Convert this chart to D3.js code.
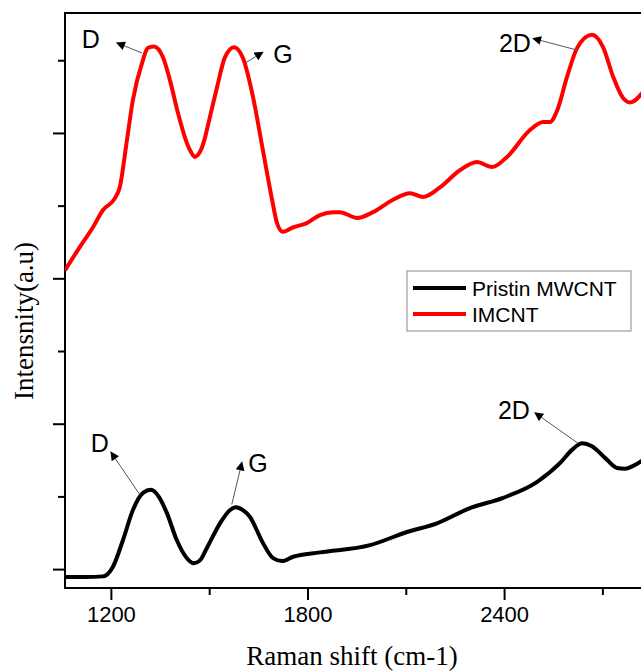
<!DOCTYPE html>
<html lang="en">
<head>
<meta charset="utf-8"/>
<title>Raman spectra</title>
<script src="https://d3js.org/d3.v7.min.js"></script>
<style>
  body { margin: 0; background: #fff; overflow: hidden; }
</style>
</head>
<body>
<div id="chart"></div>
<script>
// Raman shift (cm-1) and intensity (a.u.)
var pristinShift = [1060, 1121, 1176, 1206, 1237, 1267, 1298, 1322, 1347, 1371, 1401, 1432, 1453, 1472, 1493, 1533, 1563, 1582, 1603, 1624, 1664, 1695, 1722, 1756, 1838, 1991, 2104, 2195, 2296, 2397, 2501, 2571, 2607, 2638, 2668, 2708, 2745, 2769, 2794, 2830];
var pristinValue = [-0.11, -0.11, -0.10, 0.03, 0.40, 0.81, 1.05, 1.09, 0.99, 0.77, 0.40, 0.15, 0.08, 0.12, 0.29, 0.63, 0.81, 0.85, 0.81, 0.72, 0.36, 0.15, 0.11, 0.17, 0.23, 0.33, 0.51, 0.63, 0.84, 0.98, 1.20, 1.46, 1.64, 1.73, 1.69, 1.53, 1.39, 1.38, 1.42, 1.52];

var imcntShift = [1060, 1105, 1145, 1176, 1212, 1227, 1249, 1267, 1295, 1313, 1331, 1359, 1380, 1405, 1432, 1444, 1456, 1466, 1478, 1487, 1496, 1524, 1548, 1576, 1603, 1634, 1664, 1692, 1707, 1725, 1756, 1798, 1838, 1878, 1899, 1951, 2000, 2061, 2113, 2153, 2204, 2266, 2317, 2363, 2409, 2479, 2519, 2540, 2562, 2592, 2623, 2668, 2702, 2733, 2763, 2784, 2830];
var imcntValue = [4.11, 4.43, 4.70, 4.94, 5.10, 5.25, 5.90, 6.45, 6.96, 7.17, 7.19, 7.04, 6.73, 6.27, 5.86, 5.74, 5.67, 5.70, 5.80, 5.93, 6.10, 6.63, 7.04, 7.18, 7.03, 6.49, 5.76, 5.08, 4.76, 4.64, 4.70, 4.76, 4.87, 4.91, 4.91, 4.83, 4.91, 5.08, 5.17, 5.12, 5.25, 5.49, 5.60, 5.53, 5.67, 6.04, 6.15, 6.15, 6.31, 6.77, 7.17, 7.35, 7.18, 6.77, 6.48, 6.42, 6.60];

var seriesNames = ["Pristin MWCNT", "IMCNT"];
var seriesColors = ["#000000", "#ff0000"];

var majorTicks = [1200, 1800, 2400];
var minorTicks = [1500, 2100, 2700];
var yTicks = [0, 1, 2, 3, 4, 5, 6, 7];

// peak labels: text, label centre, arrow start (on curve), arrow tip
var peakText   = ["D", "G", "2D", "D", "G", "2D"];
var peakLabelX = [1139, 1725, 2433, 1166, 1649, 2430];
var peakLabelY = [7.29, 7.08, 7.24, 1.73, 1.46, 2.19];
var peakFromX  = [1295, 1609, 2623, 1289, 1569, 2626];
var peakFromY  = [7.10, 6.96, 7.14, 1.02, 0.89, 1.73];
var peakToX    = [1218, 1664, 2488, 1200, 1600, 2494];
var peakToY    = [7.24, 7.11, 7.30, 1.61, 1.47, 2.15];

var w = 641;
var h = 672;
var plotLeft = 65, plotRight = 645, plotTop = 13, plotBottom = 588;

var svg = d3.select("#chart")
            .append("svg")
            .attr("width", w)
            .attr("height", h);

var xScale = d3.scaleLinear().domain([1060, 2830]).range([plotLeft, plotRight]);
var yScale = d3.scaleLinear().domain([-0.26, 7.65]).range([plotBottom, plotTop]);

var defs = svg.append("defs");
defs.append("marker")
    .attr("id", "head")
    .attr("markerUnits", "userSpaceOnUse")
    .attr("viewBox", "0 0 10 10")
    .attr("refX", 9).attr("refY", 5)
    .attr("markerWidth", 10).attr("markerHeight", 9)
    .attr("orient", "auto")
    .append("path")
    .attr("d", "M0,0 L10,5 L0,10 Z")
    .attr("fill", "#000");

// axes
var xMajor = svg.append("g")
    .attr("transform", "translate(0," + plotBottom + ")")
    .call(d3.axisBottom(xScale).tickValues(majorTicks).tickSize(12).tickPadding(6).tickFormat(d3.format("d")));
var xMinor = svg.append("g")
    .attr("transform", "translate(0," + plotBottom + ")")
    .call(d3.axisBottom(xScale).tickValues(minorTicks).tickSize(7).tickFormat(""));
var yAxis = svg.append("g")
    .attr("transform", "translate(" + plotLeft + ",0)")
    .call(d3.axisLeft(yScale).tickValues(yTicks).tickFormat("")
          .tickSize(7));
yAxis.selectAll(".tick line")
    .attr("x2", function (d) { return d % 2 === 0 ? -12 : -7; });

svg.selectAll(".domain").remove();
svg.selectAll(".tick line").attr("stroke", "#000").attr("stroke-width", 2);
xMajor.selectAll("text")
    .attr("font-family", "'Liberation Sans', Arial, sans-serif")
    .attr("font-size", 22)
    .attr("fill", "#000");

// frame
svg.append("path")
    .attr("d", "M" + plotRight + "," + plotTop + " L" + plotLeft + "," + plotTop +
               " L" + plotLeft + "," + plotBottom + " L" + plotRight + "," + plotBottom)
    .attr("fill", "none")
    .attr("stroke", "#000")
    .attr("stroke-width", 2);

// curves
var line = d3.line()
    .x(function (d) { return xScale(d[0]); })
    .y(function (d) { return yScale(d[1]); })
    .curve(d3.curveMonotoneX);

var series = [d3.zip(pristinShift, pristinValue), d3.zip(imcntShift, imcntValue)];

svg.append("clipPath").attr("id", "plot")
    .append("rect").attr("x", plotLeft).attr("y", plotTop)
    .attr("width", plotRight - plotLeft).attr("height", plotBottom - plotTop);

svg.append("g").attr("clip-path", "url(#plot)")
    .selectAll("path")
    .data(series)
    .enter()
    .append("path")
    .attr("d", line)
    .attr("fill", "none")
    .attr("stroke", function (d, i) { return seriesColors[i]; })
    .attr("stroke-width", 4)
    .attr("stroke-linejoin", "round");

// peak annotations
var peaks = svg.append("g");
peaks.selectAll("line")
    .data(peakText)
    .enter()
    .append("line")
    .attr("x1", function (d, i) { return xScale(peakFromX[i]); })
    .attr("y1", function (d, i) { return yScale(peakFromY[i]); })
    .attr("x2", function (d, i) { return xScale(peakToX[i]); })
    .attr("y2", function (d, i) { return yScale(peakToY[i]); })
    .attr("stroke", "#555")
    .attr("stroke-width", 1)
    .attr("marker-end", "url(#head)");

peaks.selectAll("text")
    .data(peakText)
    .enter()
    .append("text")
    .attr("x", function (d, i) { return xScale(peakLabelX[i]); })
    .attr("y", function (d, i) { return yScale(peakLabelY[i]); })
    .attr("text-anchor", "middle")
    .attr("dominant-baseline", "central")
    .attr("font-family", "'Liberation Sans', Arial, sans-serif")
    .attr("font-size", 25)
    .text(function (d) { return d; });

// legend
var legend = svg.append("g").attr("transform", "translate(407,271)");
legend.append("rect")
    .attr("width", 224).attr("height", 60)
    .attr("fill", "#fff")
    .attr("stroke", "#888")
    .attr("stroke-width", 1);
var items = legend.selectAll("g.item")
    .data(seriesNames)
    .enter()
    .append("g")
    .attr("class", "item")
    .attr("transform", function (d, i) { return "translate(0," + (17 + i * 26) + ")"; });
items.append("line")
    .attr("x1", 6).attr("x2", 59)
    .attr("stroke", function (d, i) { return seriesColors[i]; })
    .attr("stroke-width", 4);
items.append("text")
    .attr("x", 65)
    .attr("dominant-baseline", "central")
    .attr("font-family", "'Liberation Sans', Arial, sans-serif")
    .attr("font-size", 21)
    .text(function (d) { return d; });

// axis titles
svg.append("text")
    .attr("x", 352).attr("y", 665)
    .attr("text-anchor", "middle")
    .attr("font-family", "'Liberation Serif', 'Times New Roman', serif")
    .attr("font-size", 27)
    .text("Raman shift (cm-1)");

svg.append("text")
    .attr("transform", "translate(33,321) rotate(-90)")
    .attr("text-anchor", "middle")
    .attr("font-family", "'Liberation Serif', 'Times New Roman', serif")
    .attr("font-size", 27)
    .text("Intensnity(a.u)");
</script>
</body>
</html>
